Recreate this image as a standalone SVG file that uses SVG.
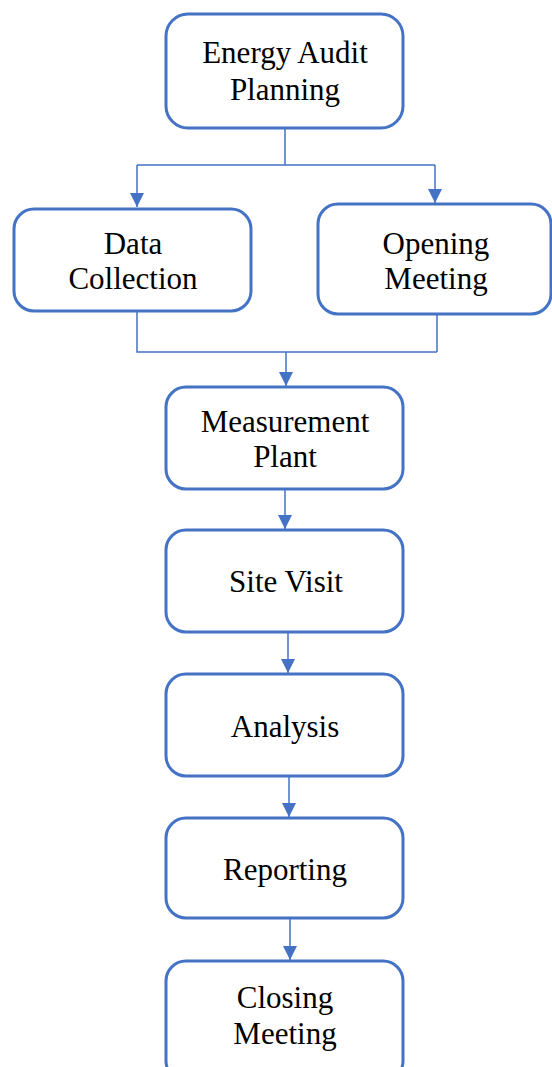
<svg xmlns="http://www.w3.org/2000/svg" width="552" height="1067" viewBox="0 0 552 1067">
<defs>
<style>
.box{fill:#ffffff;stroke:#4472C4;stroke-width:3}
.lbl{font-family:"Liberation Serif","Times New Roman",serif;font-size:31px;fill:#000;text-anchor:middle}
.con{fill:none;stroke:#4472C4;stroke-width:1.5}
</style>
<marker id="ah" viewBox="0 0 14 14" refX="14" refY="7" markerWidth="14" markerHeight="14" markerUnits="userSpaceOnUse" orient="auto">
<path d="M0,0 L14,7 L0,14 Z" fill="#4472C4"/>
</marker>
</defs>
<rect width="552" height="1067" fill="#ffffff"/>
<g id="connectors">
<path class="con" d="M285,128 V165 M137,165 H435"/>
<path class="con" d="M137,165 V207" marker-end="url(#ah)"/>
<path class="con" d="M435,165 V203" marker-end="url(#ah)"/>
<path class="con" d="M137,311 V352 H437 M437,352 V314"/>
<path class="con" d="M286,352 V386" marker-end="url(#ah)"/>
<path class="con" d="M285,489 V529" marker-end="url(#ah)"/>
<path class="con" d="M288,632 V673" marker-end="url(#ah)"/>
<path class="con" d="M289,776 V817" marker-end="url(#ah)"/>
<path class="con" d="M290,918 V960" marker-end="url(#ah)"/>
</g>
<g id="n1"><rect class="box" x="166" y="14" width="237" height="114" rx="22"/><text class="lbl" x="285" y="63">Energy Audit</text><text class="lbl" x="285" y="100">Planning</text></g>
<g id="n2"><rect class="box" x="14" y="209" width="237" height="102" rx="20"/><text class="lbl" x="133" y="254">Data</text><text class="lbl" x="133" y="289">Collection</text></g>
<g id="n3"><rect class="box" x="318" y="204" width="233" height="110" rx="20"/><text class="lbl" x="436" y="254">Opening</text><text class="lbl" x="436" y="289">Meeting</text></g>
<g id="n4"><rect class="box" x="166" y="387" width="237" height="102" rx="20"/><text class="lbl" x="285" y="432">Measurement</text><text class="lbl" x="285" y="467">Plant</text></g>
<g id="n5"><rect class="box" x="166" y="530" width="237" height="102" rx="20"/><text class="lbl" x="286" y="592">Site Visit</text></g>
<g id="n6"><rect class="box" x="166" y="674" width="237" height="102" rx="20"/><text class="lbl" x="285" y="737">Analysis</text></g>
<g id="n7"><rect class="box" x="166" y="818" width="237" height="100" rx="20"/><text class="lbl" x="285" y="880">Reporting</text></g>
<g id="n8"><rect class="box" x="166" y="961" width="237" height="120" rx="20"/><text class="lbl" x="285" y="1008">Closing</text><text class="lbl" x="285" y="1044">Meeting</text></g>
</svg>
